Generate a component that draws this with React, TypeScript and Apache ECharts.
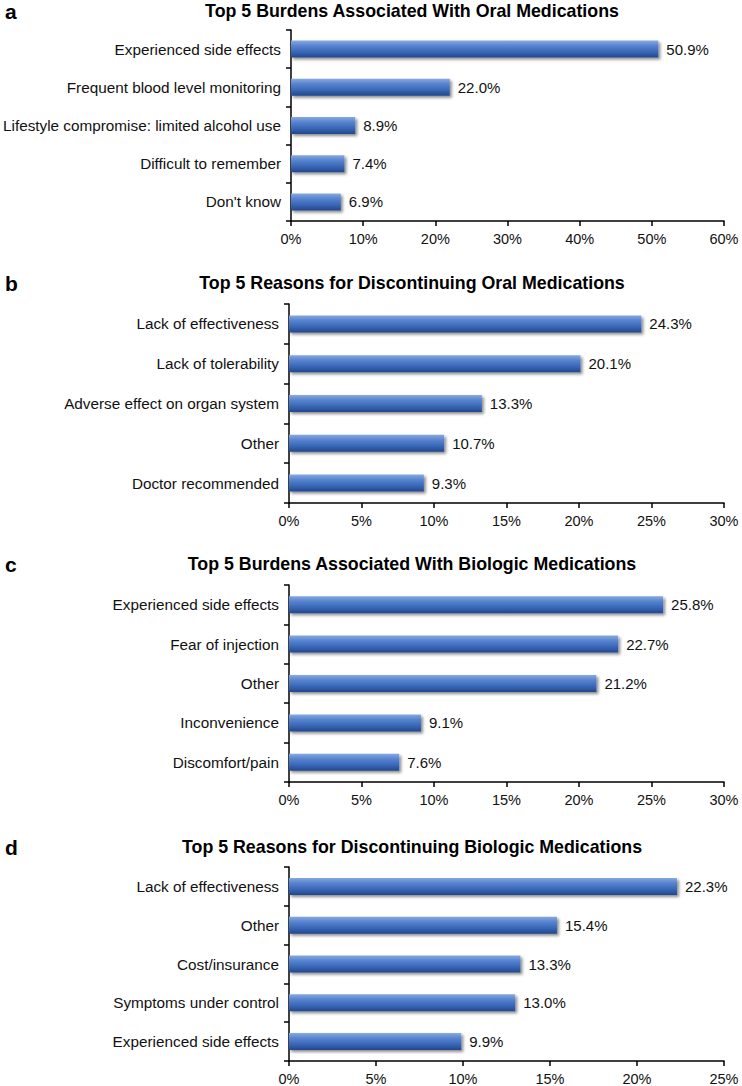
import React, { useEffect, useRef } from "react";
import * as echarts from "echarts";

const titlesA = "Top 5 Burdens Associated With Oral Medications";
const titlesB = "Top 5 Reasons for Discontinuing Oral Medications";
const titlesC = "Top 5 Burdens Associated With Biologic Medications";
const titlesD = "Top 5 Reasons for Discontinuing Biologic Medications";

const catsA = ["Experienced side effects", "Frequent blood level monitoring", "Lifestyle compromise: limited alcohol use", "Difficult to remember", "Don't know"];
const valsA = [50.9, 22.0, 8.9, 7.4, 6.9];
const catsB = ["Lack of effectiveness", "Lack of tolerability", "Adverse effect on organ system", "Other", "Doctor recommended"];
const valsB = [24.3, 20.1, 13.3, 10.7, 9.3];
const catsC = ["Experienced side effects", "Fear of injection", "Other", "Inconvenience", "Discomfort/pain"];
const valsC = [25.8, 22.7, 21.2, 9.1, 7.6];
const catsD = ["Lack of effectiveness", "Other", "Cost/insurance", "Symptoms under control", "Experienced side effects"];
const valsD = [22.3, 15.4, 13.3, 13.0, 9.9];

const axisMax = [60, 30, 30, 25];
const axisStep = [10, 5, 5, 5];
const panelLetters = ["a", "b", "c", "d"];

const FONT = "'Liberation Sans', Arial, Helvetica, sans-serif";

export default function App() {
  const ref = useRef<HTMLDivElement>(null);
  useEffect(() => {
    if (!ref.current) return;
    const chart = echarts.init(ref.current, undefined, { renderer: "svg" });
    const cats = [catsA, catsB, catsC, catsD];
    const vals = [valsA, valsB, valsC, valsD];
    const titles = [titlesA, titlesB, titlesC, titlesD];
    const grids = [
      { top: 30, height: 191 },
      { top: 304, height: 199 },
      { top: 585, height: 197 },
      { top: 867, height: 195 },
    ];
    const titleY = [11, 283, 564, 847];
    const barGrad = new echarts.graphic.LinearGradient(0, 0, 0, 1, [
      { offset: 0, color: "#86a9e0" },
      { offset: 0.3, color: "#5884cf" },
      { offset: 0.7, color: "#3664b4" },
      { offset: 1, color: "#22478a" },
    ]);
    const option: any = {
      animation: false,
      backgroundColor: "#ffffff",
      textStyle: { fontFamily: FONT },
      grid: grids.map((g) => ({ left: 289, right: 18, top: g.top, height: g.height })),
      xAxis: grids.map((_, i) => ({
        type: "value",
        gridIndex: i,
        min: 0,
        max: axisMax[i],
        interval: axisStep[i],
        axisLine: { show: true, lineStyle: { color: "#000", width: 1.5 } },
        axisTick: { show: true, length: 5, lineStyle: { color: "#000", width: 1.5 } },
        splitLine: { show: false },
        axisLabel: {
          color: "#111",
          fontSize: 14.5,
          fontFamily: FONT,
          margin: 10,
          formatter: (v: number) => `${v}%`,
        },
      })),
      yAxis: grids.map((_, i) => ({
        type: "category",
        gridIndex: i,
        inverse: true,
        data: cats[i],
        axisLine: { show: true, lineStyle: { color: "#000", width: 1.5 } },
        axisTick: { show: true, length: 5, lineStyle: { color: "#000", width: 1.5 } },
        axisLabel: { color: "#111", fontSize: 15.3, fontFamily: FONT, margin: 10 },
      })),
      series: grids.map((_, i) => ({
        type: "bar",
        xAxisIndex: i,
        yAxisIndex: i,
        data: vals[i],
        barWidth: 17,
        itemStyle: {
          color: barGrad,
          shadowColor: "rgba(0,0,0,0.45)",
          shadowBlur: 3,
          shadowOffsetX: 2,
          shadowOffsetY: 2,
        },
        label: {
          show: true,
          position: "right",
          distance: 8,
          color: "#111",
          fontSize: 15,
          fontFamily: FONT,
          formatter: (p: any) => `${Number(p.value).toFixed(1)}%`,
        },
      })),
      graphic: [
        ...titles.map((t, i) => ({
          type: "text",
          x: 412,
          y: titleY[i],
          style: {
            text: t,
            textAlign: "center",
            textVerticalAlign: "middle",
            font: `bold 17.8px ${FONT}`,
            fill: "#000",
          },
        })),
        ...panelLetters.map((l, i) => ({
          type: "text",
          x: 5,
          y: titleY[i] + 11,
          style: {
            text: l,
            textAlign: "left",
            textVerticalAlign: "bottom",
            font: `bold 21px ${FONT}`,
            fill: "#000",
          },
        })),
      ],
    };
    chart.setOption(option);
    return () => chart.dispose();
  }, []);
  return (
    <div
      ref={ref}
      style={{ position: "absolute", left: 0, top: 0, width: 742, height: 1086 }}
    />
  );
}
